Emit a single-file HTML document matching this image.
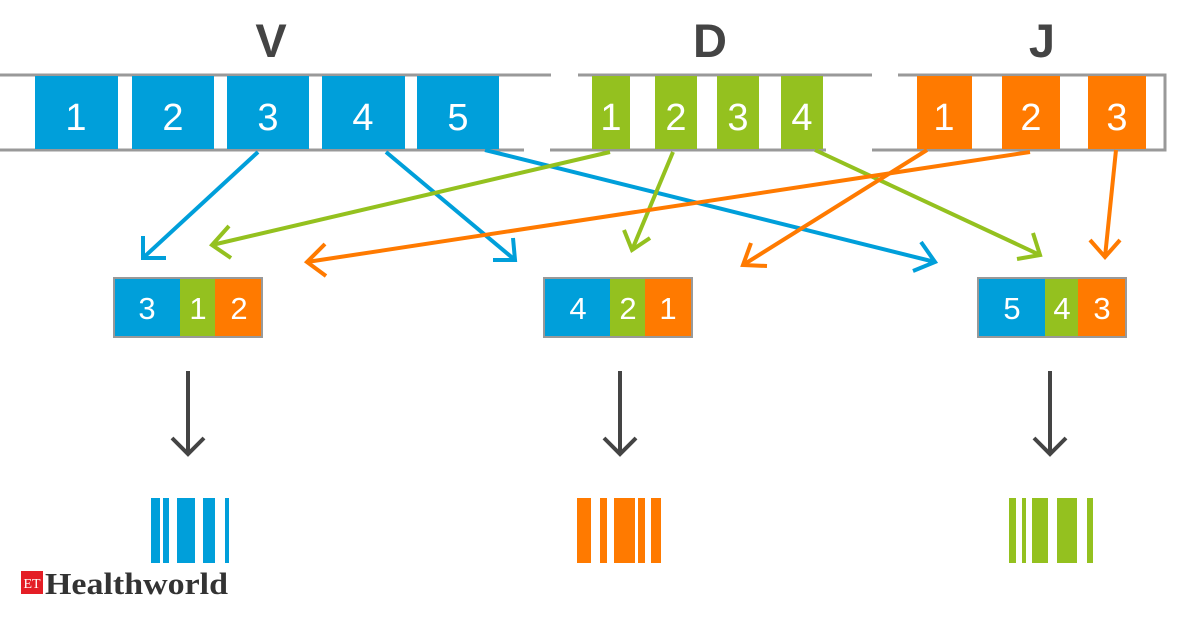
<!DOCTYPE html>
<html><head><meta charset="utf-8"><style>
html,body{margin:0;padding:0;background:#fff;}
svg{display:block;}
</style></head><body>
<svg width="1200" height="628" viewBox="0 0 1200 628" xmlns="http://www.w3.org/2000/svg" style="font-family:'Liberation Sans',sans-serif">
<g font-weight="bold" font-size="47" fill="#444" text-anchor="middle">
<text x="271" y="57">V</text><text x="710" y="57">D</text><text x="1042" y="57">J</text>
</g>
<g stroke="#999" stroke-width="3" fill="none">
<line x1="0" y1="75" x2="551" y2="75"/><line x1="0" y1="150" x2="524" y2="150"/>
<line x1="578" y1="75" x2="872" y2="75"/><line x1="550" y1="150" x2="826" y2="150"/>
<polyline points="898,75 1165,75 1165,150 872,150"/>
</g>
<g fill="#009FDA">
<rect x="35" y="76" width="83" height="73"/><rect x="132" y="76" width="82" height="73"/><rect x="227" y="76" width="82" height="73"/><rect x="322" y="76" width="83" height="73"/><rect x="417" y="76" width="82" height="73"/>
</g>
<g fill="#94C11F">
<rect x="592" y="76" width="38" height="73"/><rect x="655" y="76" width="42" height="73"/><rect x="717" y="76" width="42" height="73"/><rect x="781" y="76" width="42" height="73"/>
</g>
<g fill="#FF7A00">
<rect x="917" y="76" width="55" height="73"/><rect x="1002" y="76" width="58" height="73"/><rect x="1088" y="76" width="58" height="73"/>
</g>
<g fill="#fff" font-size="38" text-anchor="middle">
<text x="76" y="130">1</text><text x="173" y="130">2</text><text x="268" y="130">3</text><text x="363" y="130">4</text><text x="458" y="130">5</text>
<text x="611" y="130">1</text><text x="676" y="130">2</text><text x="738" y="130">3</text><text x="802" y="130">4</text>
<text x="944" y="130">1</text><text x="1031" y="130">2</text><text x="1117" y="130">3</text>
</g>
<g fill="none" stroke-width="4" stroke-linecap="butt">
<g stroke="#009FDA">
<line x1="258" y1="152" x2="143" y2="258"/><polyline points="143,236 143,258 166,258"/>
<line x1="386" y1="152" x2="515" y2="260"/><polyline points="493,260 515,260 513,238"/>
<line x1="485" y1="150" x2="935" y2="262"/><polyline points="921,242 935,262 913,271"/>
</g>
<g stroke="#94C11F">
<line x1="610" y1="152" x2="212" y2="245"/><polyline points="229,226 212,245 231,258"/>
<line x1="673" y1="152" x2="632" y2="250"/><polyline points="624,230 632,250 650,238"/>
<line x1="815" y1="150" x2="1040" y2="255"/><polyline points="1033,233 1040,255 1017,259"/>
</g>
<g stroke="#FF7A00">
<line x1="927" y1="150" x2="743" y2="265"/><polyline points="751,243 743,265 767,266"/>
<line x1="1030" y1="152" x2="307" y2="262"/><polyline points="325,244 307,262 326,276"/>
<line x1="1116" y1="150" x2="1105" y2="257"/><polyline points="1090,240 1105,257 1120,240"/>
</g>
</g>
<g>
<rect x="113" y="277" width="150" height="61" fill="#999"/>
<rect x="115" y="279" width="65" height="57" fill="#009FDA"/><rect x="180" y="279" width="35" height="57" fill="#94C11F"/><rect x="215" y="279" width="46" height="57" fill="#FF7A00"/>
<rect x="543" y="277" width="150" height="61" fill="#999"/>
<rect x="545" y="279" width="65" height="57" fill="#009FDA"/><rect x="610" y="279" width="35" height="57" fill="#94C11F"/><rect x="645" y="279" width="46" height="57" fill="#FF7A00"/>
<rect x="977" y="277" width="150" height="61" fill="#999"/>
<rect x="979" y="279" width="66" height="57" fill="#009FDA"/><rect x="1045" y="279" width="33" height="57" fill="#94C11F"/><rect x="1078" y="279" width="47" height="57" fill="#FF7A00"/>
</g>
<g fill="#fff" font-size="31" text-anchor="middle">
<text x="147" y="319">3</text><text x="198" y="319">1</text><text x="239" y="319">2</text>
<text x="578" y="319">4</text><text x="628" y="319">2</text><text x="668" y="319">1</text>
<text x="1012" y="319">5</text><text x="1062" y="319">4</text><text x="1102" y="319">3</text>
</g>
<g stroke="#444" stroke-width="4" fill="none">
<line x1="188" y1="371" x2="188" y2="454"/><polyline points="172,438 188,454 204,438"/>
<line x1="620" y1="371" x2="620" y2="454"/><polyline points="604,438 620,454 636,438"/>
<line x1="1050" y1="371" x2="1050" y2="454"/><polyline points="1034,438 1050,454 1066,438"/>
</g>
<g fill="#009FDA">
<rect x="151" y="498" width="9" height="65"/><rect x="163" y="498" width="6" height="65"/><rect x="177" y="498" width="18" height="65"/><rect x="203" y="498" width="12" height="65"/><rect x="225" y="498" width="4" height="65"/>
</g>
<g fill="#FF7A00">
<rect x="577" y="498" width="14" height="65"/><rect x="600" y="498" width="7" height="65"/><rect x="614" y="498" width="21" height="65"/><rect x="638" y="498" width="7" height="65"/><rect x="651" y="498" width="10" height="65"/>
</g>
<g fill="#94C11F">
<rect x="1009" y="498" width="7" height="65"/><rect x="1022" y="498" width="4" height="65"/><rect x="1032" y="498" width="16" height="65"/><rect x="1057" y="498" width="20" height="65"/><rect x="1087" y="498" width="6" height="65"/>
</g>
<rect x="21" y="571" width="22" height="23" fill="#E41E26"/>
<text x="32" y="588" fill="#fff" style="font-family:'Liberation Serif',serif" font-size="14" text-anchor="middle">ET</text>
<text x="45" y="594" fill="#333" style="font-family:'Liberation Serif',serif;font-weight:bold" font-size="31" textLength="183" lengthAdjust="spacingAndGlyphs">Healthworld</text>
</svg>
</body></html>
